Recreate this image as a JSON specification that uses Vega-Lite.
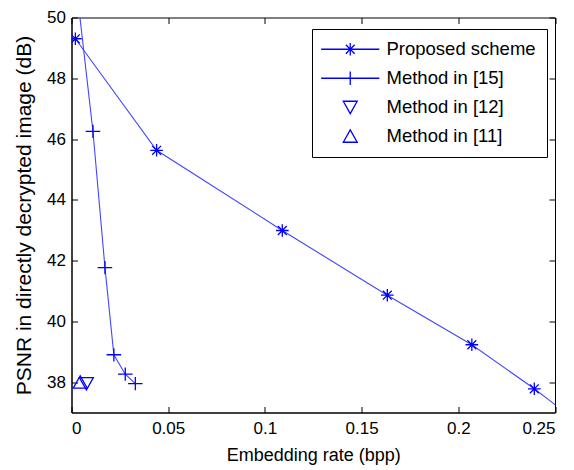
{
  "$schema": "https://vega.github.io/schema/vega-lite/v6.json",
  "width": 483.5,
  "height": 395,
  "autosize": {"type": "none"},
  "padding": {"left": 71.5, "top": 17.5, "right": 19, "bottom": 57.5},
  "background": "white",
  "config": {
    "view": {"stroke": "black", "strokeWidth": 1},
    "axis": {
      "grid": false,
      "domainColor": "black",
      "tickColor": "black",
      "labelColor": "black",
      "titleColor": "black",
      "labelFont": "Liberation Sans",
      "titleFont": "Liberation Sans",
      "labelFontSize": 17,
      "titleFontSize": 18,
      "titleFontWeight": "normal",
      "tickSize": -6,
      "tickWidth": 1
    }
  },
  "data": {
    "values": [
      {"method": "Proposed scheme", "x": 0.002, "psnr": 49.3},
      {"method": "Proposed scheme", "x": 0.044, "psnr": 45.63},
      {"method": "Proposed scheme", "x": 0.109, "psnr": 42.99},
      {"method": "Proposed scheme", "x": 0.1633, "psnr": 40.86},
      {"method": "Proposed scheme", "x": 0.207, "psnr": 39.23},
      {"method": "Proposed scheme", "x": 0.2393, "psnr": 37.78},
      {"method": "Proposed scheme", "x": 0.26, "psnr": 36.77},
      {"method": "Method in [15]", "x": 0.0015, "psnr": 51.6},
      {"method": "Method in [15]", "x": 0.0111, "psnr": 46.25},
      {"method": "Method in [15]", "x": 0.0173, "psnr": 41.77},
      {"method": "Method in [15]", "x": 0.0219, "psnr": 38.9},
      {"method": "Method in [15]", "x": 0.0278, "psnr": 38.26},
      {"method": "Method in [15]", "x": 0.033, "psnr": 37.95},
      {"method": "Method in [12]", "x": 0.0077, "psnr": 37.95},
      {"method": "Method in [11]", "x": 0.0045, "psnr": 38.0}
    ]
  },
  "layer": [
    {
      "transform": [{"filter": "datum.method === 'Proposed scheme' || datum.method === 'Method in [15]'"}],
      "mark": {"type": "line", "clip": true, "color": "#4444ff", "strokeWidth": 1.1},
      "encoding": {
        "x": {"field": "x", "type": "quantitative", "scale": {"domain": [0, 0.25], "nice": false},
              "axis": {"orient": "bottom", "values": [0, 0.05, 0.1, 0.15, 0.2, 0.25], "format": "~g", "title": "Embedding rate (bpp)", "labelPadding": 14, "titlePadding": 10}},
        "y": {"field": "psnr", "type": "quantitative", "scale": {"domain": [37, 50], "nice": false, "zero": false},
              "axis": {"orient": "left", "values": [38, 40, 42, 44, 46, 48, 50], "title": "PSNR in directly decrypted image (dB)", "titleFontSize": 21, "labelPadding": 12, "titlePadding": 12}},
        "detail": {"field": "method"}
      }
    },
    {
      "mark": {"type": "point", "clip": true, "filled": false, "color": "#0000ff", "strokeWidth": 1.3, "size": 160, "opacity": 1},
      "encoding": {
        "x": {"field": "x", "type": "quantitative",
              "axis": {"orient": "top", "values": [0, 0.05, 0.1, 0.15, 0.2, 0.25], "labels": false, "title": null, "domain": false}},
        "y": {"field": "psnr", "type": "quantitative",
              "axis": {"orient": "right", "values": [38, 40, 42, 44, 46, 48, 50], "labels": false, "title": null, "domain": false}},
        "shape": {
          "field": "method", "type": "nominal",
          "scale": {
            "domain": ["Proposed scheme", "Method in [15]", "Method in [12]", "Method in [11]"],
            "range": [
              "M-1,0L1,0M0,-1L0,1M-0.7,-0.7L0.7,0.7M-0.7,0.7L0.7,-0.7",
              "M-1.15,0L1.15,0M0,-1.05L0,1.05",
              "M0,1L1.1,-0.95L-1.1,-0.95Z",
              "M0,-1L1.1,0.95L-1.1,0.95Z"
            ]
          },
          "legend": null
        }
      }
    },
    {
      "mark": {"type": "point", "clip": true, "filled": false, "color": "#0000ff", "strokeWidth": 1.3, "size": 160, "opacity": 0},
      "encoding": {
        "x": {"field": "x", "type": "quantitative", "axis": null},
        "y": {"field": "psnr", "type": "quantitative", "axis": null},
        "shape": {
          "field": "method", "type": "nominal",
          "scale": {
            "domain": ["Proposed scheme", "Method in [15]", "Method in [12]", "Method in [11]"],
            "range": [
              "M-4.6,0L4.6,0M0,-1L0,1M-0.7,-0.7L0.7,0.7M-0.7,0.7L0.7,-0.7",
              "M-4.6,0L4.6,0M0,-1.05L0,1.05",
              "M0,1L1.1,-0.95L-1.1,-0.95Z",
              "M0,-1L1.1,0.95L-1.1,0.95Z"
            ]
          },
          "legend": {
            "title": null,
            "orient": "none",
            "legendX": 240.5,
            "legendY": 11.5,
            "padding": 11,
            "strokeColor": "black",
            "fillColor": "white",
            "labelFont": "Liberation Sans",
            "labelFontSize": 18.5,
            "labelColor": "black",
            "labelLimit": 300,
            "symbolSize": 160,
            "symbolOpacity": 1,
            "symbolStrokeWidth": 1.3,
            "symbolStrokeColor": "#0000ff",
            "symbolOffset": 18,
            "labelOffset": 27,
            "rowPadding": 10
          }
        }
      }
    }
  ],
  "resolve": {"axis": {"x": "independent", "y": "independent"}, "scale": {"shape": "independent"}}
}
